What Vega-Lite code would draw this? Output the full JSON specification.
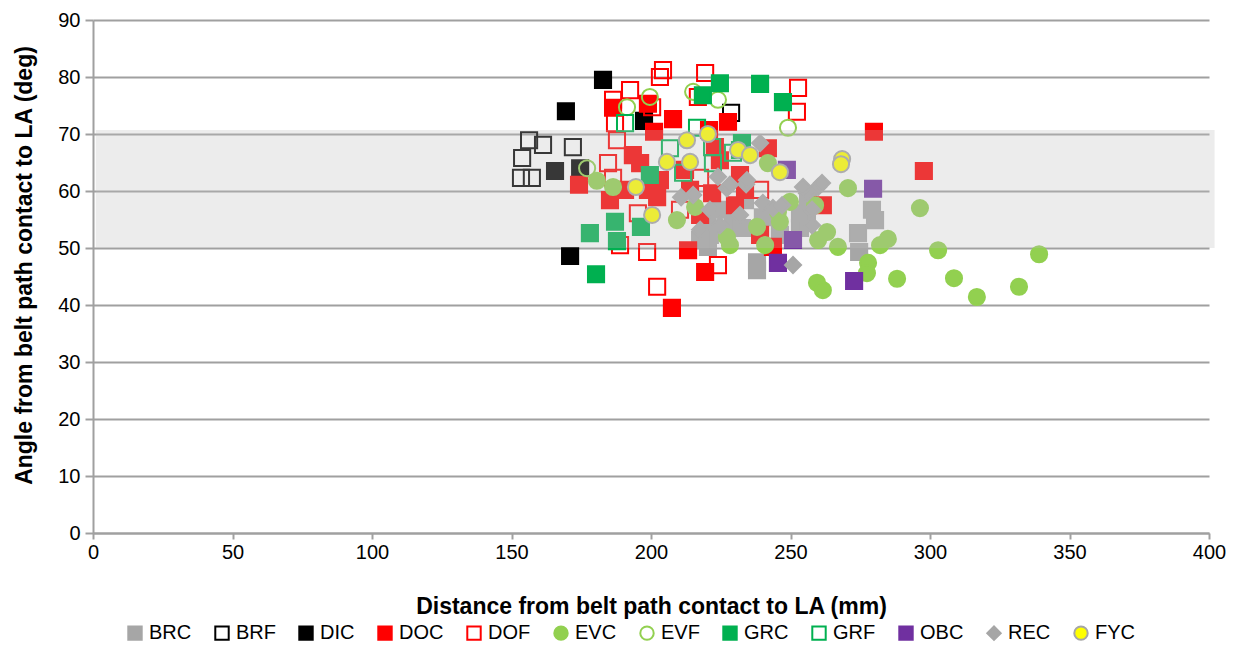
{
  "$schema": "https://vega.github.io/schema/vega-lite/v6.json",
  "width": 1116,
  "height": 513,
  "autosize": {"type": "none"},
  "padding": {"left": 93, "top": 20, "right": 32, "bottom": 113},
  "background": "white",
  "config": {"view": {"stroke": null}, "font": "Liberation Sans"},
  "layer": [
    {
      "data": {"values": [
        {"s":"BRC","x":279.2,"y":56.7},{"s":"BRC","x":280.3,"y":54.9},{"s":"BRC","x":274.2,"y":52.6},{"s":"BRC","x":274.6,"y":49.3},{"s":"BRC","x":238.0,"y":47.5},{"s":"BRC","x":238.0,"y":46.1},{"s":"BRC","x":220.1,"y":54.4},{"s":"BRC","x":220.4,"y":50.2},{"s":"BRC","x":229.4,"y":54.4},{"s":"BRC","x":232.6,"y":53.5},{"s":"BRC","x":240.1,"y":55.4},{"s":"BRC","x":253.4,"y":53.5},{"s":"BRC","x":255.9,"y":54.4},{"s":"BRC","x":253.4,"y":56.1},{"s":"BRC","x":221.1,"y":52.3},{"s":"BRC","x":224.7,"y":56.7},{"s":"BRC","x":217.6,"y":51.4},{"s":"BRC","x":233.7,"y":58.4},{"s":"BRC","x":256.3,"y":58.4},{"s":"BRC","x":246.2,"y":52.3},
        {"s":"BRF","x":156.3,"y":68.9},{"s":"BRF","x":161.3,"y":68.1},{"s":"BRF","x":172.0,"y":67.7},{"s":"BRF","x":153.8,"y":65.8},{"s":"BRF","x":153.4,"y":62.3},{"s":"BRF","x":157.3,"y":62.3},{"s":"BRF","x":228.7,"y":73.7},
        {"s":"DIC","x":182.8,"y":79.5},{"s":"DIC","x":169.5,"y":74.0},{"s":"DIC","x":171.0,"y":48.6},{"s":"DIC","x":165.6,"y":63.5},{"s":"DIC","x":174.6,"y":64.0},{"s":"DIC","x":197.5,"y":72.3},
        {"s":"DOC","x":207.5,"y":39.5},{"s":"DOC","x":219.4,"y":45.8},{"s":"DOC","x":213.3,"y":49.6},{"s":"DOC","x":243.7,"y":50.2},{"s":"DOC","x":297.8,"y":63.5},{"s":"DOC","x":279.9,"y":70.4},{"s":"DOC","x":174.2,"y":61.1},{"s":"DOC","x":186.4,"y":74.6},{"s":"DOC","x":198.9,"y":75.3},{"s":"DOC","x":201.1,"y":70.4},{"s":"DOC","x":207.9,"y":72.6},{"s":"DOC","x":227.6,"y":72.1},{"s":"DOC","x":220.8,"y":70.7},{"s":"DOC","x":193.5,"y":66.3},{"s":"DOC","x":196.1,"y":64.9},{"s":"DOC","x":185.3,"y":58.4},{"s":"DOC","x":202.2,"y":58.9},{"s":"DOC","x":212.2,"y":63.7},{"s":"DOC","x":221.9,"y":59.6},{"s":"DOC","x":231.9,"y":62.8},{"s":"DOC","x":241.9,"y":67.5},{"s":"DOC","x":261.6,"y":57.5},{"s":"DOC","x":222.9,"y":67.7},{"s":"DOC","x":203.2,"y":61.9},{"s":"DOC","x":217.6,"y":55.8},{"s":"DOC","x":230.1,"y":57.5},{"s":"DOC","x":239.1,"y":52.3},{"s":"DOC","x":233.7,"y":60.2},{"s":"DOC","x":190.7,"y":60.2},{"s":"DOC","x":198.9,"y":60.2},{"s":"DOC","x":214.0,"y":60.2},{"s":"DOC","x":224.7,"y":65.4},
        {"s":"DOF","x":204.3,"y":81.2},{"s":"DOF","x":203.2,"y":80.0},{"s":"DOF","x":219.4,"y":80.7},{"s":"DOF","x":252.7,"y":78.1},{"s":"DOF","x":252.3,"y":73.9},{"s":"DOF","x":186.4,"y":76.0},{"s":"DOF","x":192.5,"y":77.7},{"s":"DOF","x":200.4,"y":74.7},{"s":"DOF","x":187.1,"y":71.9},{"s":"DOF","x":184.6,"y":64.9},{"s":"DOF","x":188.9,"y":50.5},{"s":"DOF","x":198.6,"y":49.3},{"s":"DOF","x":202.2,"y":43.2},{"s":"DOF","x":224.0,"y":47.0},{"s":"DOF","x":216.8,"y":76.5},{"s":"DOF","x":187.8,"y":68.9},{"s":"DOF","x":186.4,"y":62.3},{"s":"DOF","x":195.3,"y":56.1},{"s":"DOF","x":239.1,"y":60.2},{"s":"DOF","x":217.6,"y":62.3},{"s":"DOF","x":210.4,"y":56.7},
        {"s":"EVC","x":180.6,"y":61.8},{"s":"EVC","x":186.4,"y":60.7},{"s":"EVC","x":209.3,"y":54.9},{"s":"EVC","x":215.8,"y":57.2},{"s":"EVC","x":227.2,"y":51.9},{"s":"EVC","x":228.3,"y":50.5},{"s":"EVC","x":238.0,"y":53.7},{"s":"EVC","x":246.2,"y":54.6},{"s":"EVC","x":245.5,"y":56.3},{"s":"EVC","x":241.9,"y":64.9},{"s":"EVC","x":249.8,"y":58.1},{"s":"EVC","x":270.6,"y":60.5},{"s":"EVC","x":296.4,"y":57.0},{"s":"EVC","x":263.1,"y":52.8},{"s":"EVC","x":259.9,"y":51.4},{"s":"EVC","x":267.0,"y":50.2},{"s":"EVC","x":282.1,"y":50.5},{"s":"EVC","x":284.9,"y":51.6},{"s":"EVC","x":277.8,"y":47.4},{"s":"EVC","x":277.4,"y":45.6},{"s":"EVC","x":288.2,"y":44.6},{"s":"EVC","x":302.9,"y":49.6},{"s":"EVC","x":308.6,"y":44.7},{"s":"EVC","x":316.8,"y":41.4},{"s":"EVC","x":331.9,"y":43.2},{"s":"EVC","x":339.1,"y":48.9},{"s":"EVC","x":259.5,"y":43.9},{"s":"EVC","x":261.6,"y":42.6},{"s":"EVC","x":258.8,"y":57.5},{"s":"EVC","x":240.9,"y":50.5},
        {"s":"EVF","x":199.6,"y":76.5},{"s":"EVF","x":191.4,"y":74.7},{"s":"EVF","x":177.1,"y":64.0},{"s":"EVF","x":215.1,"y":77.4},{"s":"EVF","x":224.0,"y":76.0},{"s":"EVF","x":249.1,"y":71.1},
        {"s":"GRC","x":224.7,"y":78.9},{"s":"GRC","x":239.1,"y":78.8},{"s":"GRC","x":247.3,"y":75.6},{"s":"GRC","x":218.6,"y":76.8},{"s":"GRC","x":180.3,"y":45.4},{"s":"GRC","x":178.1,"y":52.6},{"s":"GRC","x":187.1,"y":54.6},{"s":"GRC","x":187.8,"y":51.2},{"s":"GRC","x":196.4,"y":53.7},{"s":"GRC","x":199.6,"y":62.8},{"s":"GRC","x":232.6,"y":68.4},
        {"s":"GRF","x":190.7,"y":71.9},{"s":"GRF","x":206.8,"y":67.5},{"s":"GRF","x":221.9,"y":67.7},{"s":"GRF","x":222.2,"y":64.9},{"s":"GRF","x":229.4,"y":66.7},{"s":"GRF","x":216.5,"y":71.1},{"s":"GRF","x":231.9,"y":67.2},{"s":"GRF","x":211.5,"y":63.2},
        {"s":"OBC","x":248.7,"y":63.7},{"s":"OBC","x":279.6,"y":60.4},{"s":"OBC","x":272.8,"y":44.2},{"s":"OBC","x":250.9,"y":51.4},{"s":"OBC","x":245.5,"y":47.4},
        {"s":"REC","x":210.8,"y":58.9},{"s":"REC","x":215.1,"y":59.3},{"s":"REC","x":227.2,"y":60.5},{"s":"REC","x":234.1,"y":61.2},{"s":"REC","x":240.1,"y":57.9},{"s":"REC","x":243.7,"y":57.0},{"s":"REC","x":247.0,"y":57.5},{"s":"REC","x":255.9,"y":59.6},{"s":"REC","x":257.7,"y":56.7},{"s":"REC","x":259.9,"y":60.7},{"s":"REC","x":261.3,"y":61.4},{"s":"REC","x":250.9,"y":47.0},{"s":"REC","x":221.1,"y":56.7},{"s":"REC","x":239.1,"y":68.4},{"s":"REC","x":224.0,"y":62.5},{"s":"REC","x":228.3,"y":61.1},{"s":"REC","x":234.4,"y":61.9},{"s":"REC","x":254.5,"y":60.7},{"s":"REC","x":217.6,"y":53.2},{"s":"REC","x":224.7,"y":54.0},{"s":"REC","x":231.9,"y":55.8},{"s":"REC","x":257.7,"y":54.0},
        {"s":"FYC","x":212.9,"y":68.9},{"s":"FYC","x":220.4,"y":70.0},{"s":"FYC","x":214.0,"y":65.1},{"s":"FYC","x":231.2,"y":67.2},{"s":"FYC","x":235.5,"y":66.3},{"s":"FYC","x":246.2,"y":63.3},{"s":"FYC","x":205.7,"y":65.1},{"s":"FYC","x":194.6,"y":60.7},{"s":"FYC","x":200.4,"y":55.8},{"s":"FYC","x":268.5,"y":65.6},{"s":"FYC","x":268.1,"y":64.7}
      ]},
      "mark": {"type": "point", "filled": true, "size": 260, "strokeWidth": 2, "opacity": 1},
      "encoding": {
        "x": {
          "field": "x", "type": "quantitative",
          "scale": {"domain": [0, 400], "nice": false, "zero": false},
          "axis": {
            "values": [0, 50, 100, 150, 200, 250, 300, 350, 400],
            "title": "Distance from belt path contact to LA (mm)",
            "grid": false, "labelFlush": false,
            "domainColor": "#A0A0A0", "domainWidth": 2,
            "tickColor": "#A0A0A0", "tickWidth": 2, "tickSize": 6,
            "labelFontSize": 20, "labelColor": "black", "labelPadding": 3,
            "labelFont": "Liberation Sans",
            "titleFont": "Liberation Sans", "titleFontSize": 23, "titleFontWeight": "bold", "titleColor": "black",
            "titleY": 73, "titleBaseline": "middle"
          }
        },
        "y": {
          "field": "y", "type": "quantitative",
          "scale": {"domain": [0, 90], "nice": false},
          "axis": {
            "values": [0, 10, 20, 30, 40, 50, 60, 70, 80, 90],
            "title": "Angle from belt path contact to LA (deg)",
            "grid": true, "gridColor": "#A0A0A0", "gridWidth": 2,
            "domainColor": "#A0A0A0", "domainWidth": 2,
            "tickColor": "#A0A0A0", "tickWidth": 2, "tickSize": 8,
            "labelFontSize": 20, "labelColor": "black", "labelPadding": 5,
            "labelFont": "Liberation Sans",
            "titleFont": "Liberation Sans", "titleFontSize": 23, "titleFontWeight": "bold", "titleColor": "black",
            "titleX": -69, "titleY": 245, "titleAngle": 270, "titleBaseline": "middle", "titleAlign": "center"
          }
        },
        "shape": {
          "field": "s", "type": "nominal",
          "scale": {
            "domain": ["BRC","BRF","DIC","DOC","DOF","EVC","EVF","GRC","GRF","OBC","REC","FYC"],
            "range": ["square","square","square","square","square","circle","circle","square","square","square","diamond","circle"]
          },
          "legend": {"title": null, "orient": "none", "legendX": 32, "legendY": 603, "direction": "horizontal", "columns": 12, "labelFontSize": 20, "labelColor": "black", "labelFont": "Liberation Sans", "symbolSize": 180, "symbolStrokeWidth": 2, "labelOffset": 4, "columnPadding": 19}
        },
        "fill": {
          "field": "s", "type": "nominal",
          "scale": {
            "domain": ["BRC","BRF","DIC","DOC","DOF","EVC","EVF","GRC","GRF","OBC","REC","FYC"],
            "range": ["#A6A6A6","transparent","#000000","#FF0000","transparent","#92D050","transparent","#00B050","transparent","#7030A0","#A6A6A6","#FFFF00"]
          },
          "legend": {"title": null, "orient": "none", "legendX": 32, "legendY": 603, "direction": "horizontal", "columns": 12, "labelFontSize": 20, "labelColor": "black", "labelFont": "Liberation Sans", "symbolSize": 180, "symbolStrokeWidth": 2, "labelOffset": 4, "columnPadding": 19}
        },
        "stroke": {
          "field": "s", "type": "nominal",
          "scale": {
            "domain": ["BRC","BRF","DIC","DOC","DOF","EVC","EVF","GRC","GRF","OBC","REC","FYC"],
            "range": ["#A6A6A6","#000000","#000000","#FF0000","#FF0000","#92D050","#92D050","#00B050","#00B050","#7030A0","#A6A6A6","#A6A6A6"]
          },
          "legend": {"title": null, "orient": "none", "legendX": 32, "legendY": 603, "direction": "horizontal", "columns": 12, "labelFontSize": 20, "labelColor": "black", "labelFont": "Liberation Sans", "symbolSize": 180, "symbolStrokeWidth": 2, "labelOffset": 4, "columnPadding": 19}
        }
      }
    },
    {
      "data": {"values": [{"bx": 1, "bx2": 402, "by": 50, "by2": 70.7}]},
      "mark": {"type": "rect", "color": "#BEBEBE", "opacity": 0.29},
      "encoding": {
        "x": {"field": "bx", "type": "quantitative"},
        "x2": {"field": "bx2"},
        "y": {"field": "by", "type": "quantitative"},
        "y2": {"field": "by2"}
      }
    }
  ]
}
